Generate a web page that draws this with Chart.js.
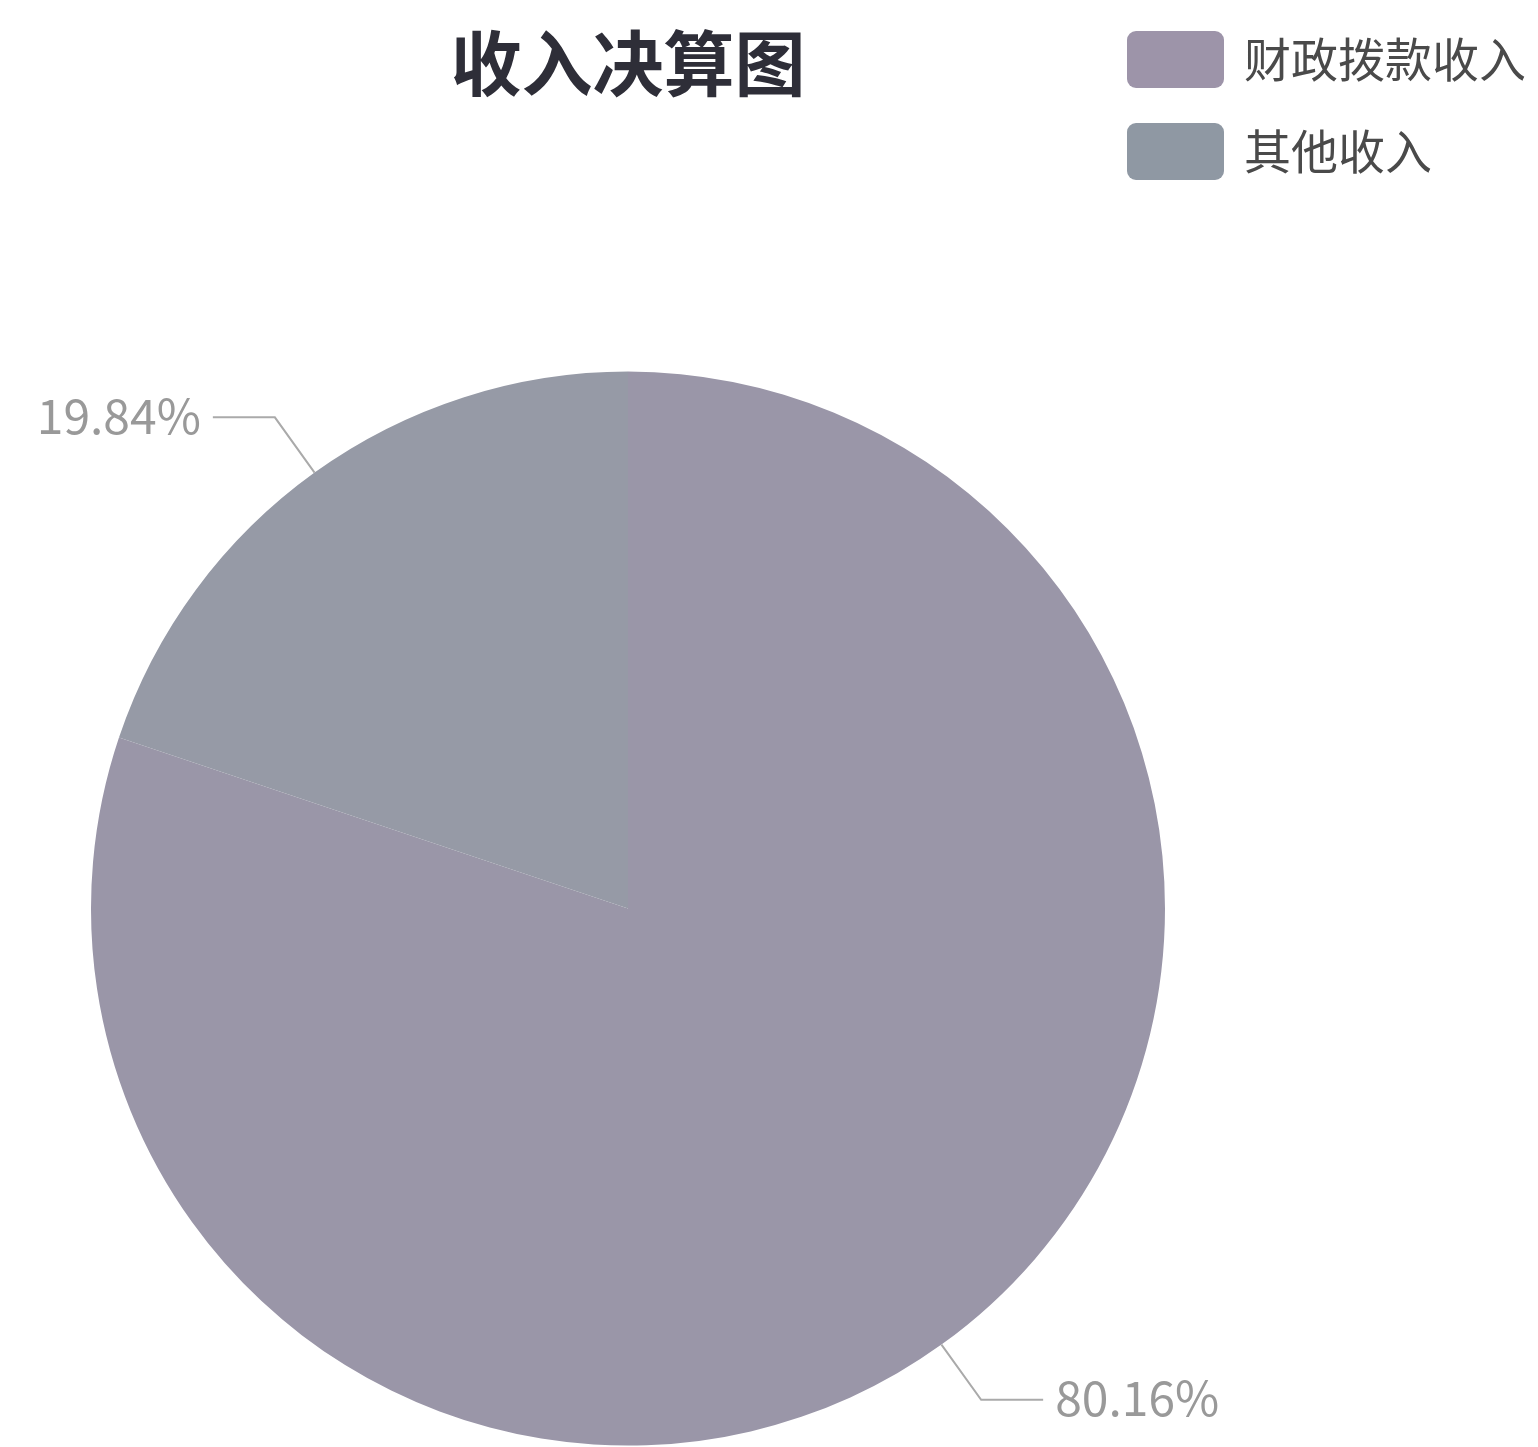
<!DOCTYPE html>
<html>
<head>
<meta charset="utf-8">
<script src="https://cdn.jsdelivr.net/npm/chart.js@4/dist/chart.umd.min.js"></script>
<style>
html,body{margin:0;padding:0;background:#fff;}
#wrap{width:1538px;height:1447px;}
</style>
</head>
<body>
<div id="wrap"><canvas id="c" width="1538" height="1447"></canvas></div>
<script>
const categories = ['财政拨款收入', '其他收入'];
const values = [80.16, 19.84];
const sliceColors = ['#9a96a8', '#969aa6'];
const legendColors = ['#9d94a9', '#8f98a3'];
const titleText = '收入决算图';

const FONT = '"Noto Sans CJK SC", "Noto Sans", sans-serif';

const customPlugin = {
  id: 'custom',
  afterDraw(chart) {
    const ctx = chart.ctx;
    const meta = chart.getDatasetMeta(0);
    const total = values.reduce((a, b) => a + b, 0);
    ctx.save();
    meta.data.forEach((arc, i) => {
      const mid = (arc.startAngle + arc.endAngle) / 2;
      const r = arc.outerRadius;
      const cx = arc.x, cy = arc.y;
      const cos = Math.cos(mid), sin = Math.sin(mid);
      const p0 = [cx + r * cos, cy + r * sin];
      const p1 = [cx + (r + 68) * cos, cy + (r + 68) * sin];
      const dir = cos >= 0 ? 1 : -1;
      const p2 = [p1[0] + dir * 62, p1[1]];
      ctx.strokeStyle = '#aaaaaa';
      ctx.lineWidth = 2;
      ctx.beginPath();
      ctx.moveTo(p0[0], p0[1]);
      ctx.lineTo(p1[0], p1[1]);
      ctx.lineTo(p2[0], p2[1]);
      ctx.stroke();
      const pct = (values[i] / total * 100).toFixed(2) + '%';
      ctx.font = '48px ' + FONT;
      ctx.fillStyle = '#999999';
      ctx.textBaseline = 'middle';
      ctx.textAlign = dir > 0 ? 'left' : 'right';
      ctx.fillText(pct, p2[0] + dir * 12, p2[1] - 2);
    });
    categories.forEach((name, i) => {
      const y = 31 + i * 92;
      ctx.fillStyle = legendColors[i];
      ctx.beginPath();
      ctx.roundRect(1127, y, 97, 57, 9);
      ctx.fill();
      ctx.font = '47px ' + FONT;
      ctx.fillStyle = '#4a4a4a';
      ctx.textAlign = 'left';
      ctx.textBaseline = 'middle';
      ctx.fillText(name, 1244, y + 28);
    });
    ctx.restore();
  }
};

new Chart(document.getElementById('c'), {
  type: 'pie',
  data: {
    labels: categories,
    datasets: [{
      data: values,
      backgroundColor: sliceColors,
      borderColor: sliceColors,
      borderWidth: 0,
      hoverOffset: 0,
      offset: 0
    }]
  },
  options: {
    responsive: false,
    animation: false,
    devicePixelRatio: 1,
    layout: { padding: { left: 91, right: 373, top: 0, bottom: 0 } },
    plugins: {
      legend: { display: false },
      tooltip: { enabled: false },
      title: {
        display: true,
        text: titleText,
        color: '#2e2e38',
        font: { size: 71, weight: 'bold', family: FONT, lineHeight: 1.2 },
        padding: { top: 20, bottom: 265 }
      }
    }
  },
  plugins: [customPlugin]
});
</script>
</body>
</html>
